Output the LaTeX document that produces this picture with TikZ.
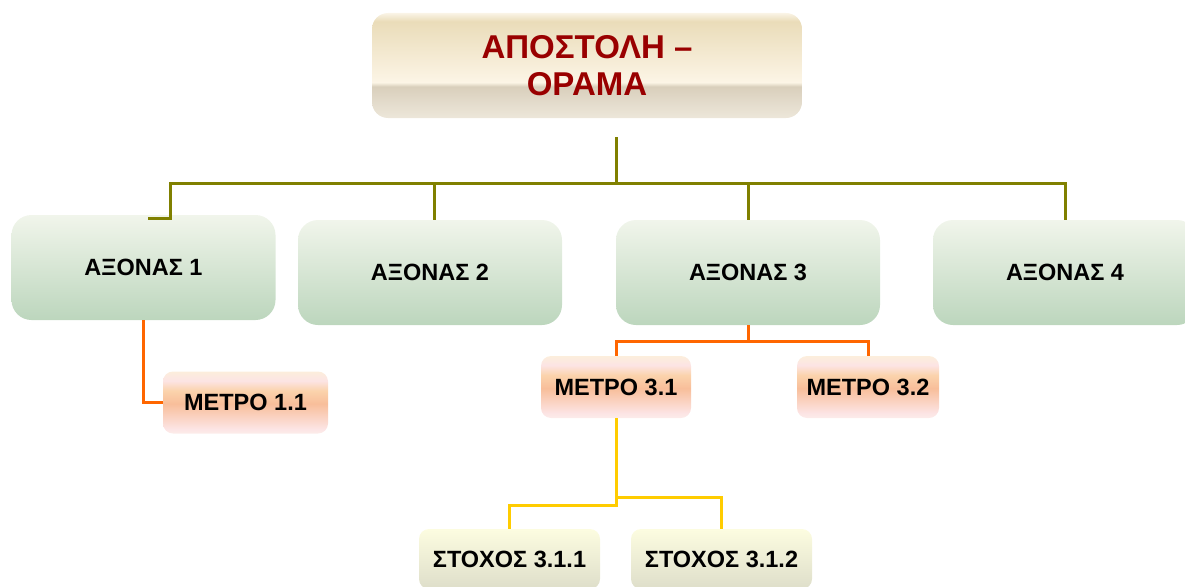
\documentclass[tikz,border=0pt]{standalone}
\usepackage{fontspec}
\setmainfont{Liberation Sans}
\definecolor{olivelink}{HTML}{808000}
\definecolor{orangelink}{HTML}{FF6600}
\definecolor{yellowlink}{HTML}{FFCC00}
\definecolor{visiontext}{HTML}{990000}
\definecolor{visiontopc}{HTML}{FAF4E6}
\definecolor{visiontan}{HTML}{EADCB9}
\definecolor{visionlight}{HTML}{FCF5E6}
\definecolor{visionband}{HTML}{D9CFBC}
\definecolor{visionbotc}{HTML}{EDE7DA}
\definecolor{metrotop}{HTML}{FCEEDC}
\definecolor{metropink}{HTML}{FCE4E4}
\definecolor{metroorange}{HTML}{FBD3AC}
\definecolor{metropeach}{HTML}{F8BE9A}
\definecolor{metrobot}{HTML}{FCECEA}
\definecolor{axistop}{HTML}{F1F5EB}
\definecolor{axisbot}{HTML}{BCD6BD}
\definecolor{goaltop}{HTML}{FCFCE0}
\definecolor{goalbot}{HTML}{DEDECA}
\pgfdeclareverticalshading{visionshade}{100bp}{color(0bp)=(visionbotc); color(25bp)=(visionbotc); color(40bp)=(visionband); color(42bp)=(visionlight); color(71bp)=(visiontan); color(75bp)=(visiontopc); color(100bp)=(visiontopc)}
\pgfdeclareverticalshading{metroshade}{100bp}{color(0bp)=(metrobot); color(25bp)=(metrobot); color(29bp)=(metropink); color(49bp)=(metropeach); color(59.5bp)=(metroorange); color(67.5bp)=(metropink); color(75bp)=(metrotop); color(100bp)=(metrotop)}
\begin{document}
\begin{tikzpicture}[x=1pt,y=-1pt,font=\bfseries\fontsize{23.5}{28}\selectfont,
  vision/.style={rounded corners=16,minimum width=430,minimum height=105,inner sep=0,shading=visionshade,align=center,text=visiontext,font=\bfseries\fontsize{33}{37}\selectfont},
  axis/.style={rounded corners=20,minimum width=264,minimum height=105,inner sep=0,top color=axistop,bottom color=axisbot},
  metro/.style={rounded corners=10,minimum height=62,inner sep=0,shading=metroshade},
  goal/.style={rounded corners=10,minimum width=181,minimum height=60,inner sep=0,top color=goaltop,bottom color=goalbot},
  olive/.style={draw=olivelink,line width=3},
  orangeln/.style={draw=orangelink,line width=3},
  yellowln/.style={draw=yellowlink,line width=3}]
\useasboundingbox (0,0) rectangle (1185,586);
\clip (0,0) rectangle (1185,586);
\node[vision] (apostoli) at (587,65.5) {ΑΠΟΣΤΟΛΗ –\\ΟΡΑΜΑ};
\node[axis] (axonas1) at (143.5,267.5) {ΑΞΟΝΑΣ 1};
\node[axis] (axonas2) at (430,272.5) {ΑΞΟΝΑΣ 2};
\node[axis] (axonas3) at (748,272.5) {ΑΞΟΝΑΣ 3};
\node[axis] (axonas4) at (1065,272.5) {ΑΞΟΝΑΣ 4};
\node[metro,minimum width=165] (metro11) at (245.5,402.5) {ΜΕΤΡΟ 1.1};
\node[metro,minimum width=150] (metro31) at (616,387) {ΜΕΤΡΟ 3.1};
\node[metro,minimum width=142] (metro32) at (868,387) {ΜΕΤΡΟ 3.2};
\node[goal] (stoxos311) at (509.5,559) {ΣΤΟΧΟΣ 3.1.1};
\node[goal] (stoxos312) at (721.5,559) {ΣΤΟΧΟΣ 3.1.2};
\coordinate (hub) at (616,137);
\coordinate (bus) at (616,183);
\coordinate (hook1) at (170,218);
\draw[olive] (hub) -- (bus);
\draw[olive] (bus) -| (hook1) -- ++(-22,0);
\draw[olive] (bus) -| ([xshift=4]axonas2.north);
\draw[olive] (bus) -| (axonas3.north);
\draw[olive] (bus) -| (axonas4.north);
\draw[orangeln] (axonas1.south) |- (metro11.west);
\draw[orangeln] (axonas3.south) -- ++(0,16) -| (metro31.north);
\draw[orangeln] (axonas3.south) -- ++(0,16) -| (metro32.north);
\draw[yellowln] (metro31.south) -- ++(0,87) -| (stoxos311.north);
\draw[yellowln] (metro31.south) -- ++(0,79) -| (stoxos312.north);
\end{tikzpicture}
\end{document}
